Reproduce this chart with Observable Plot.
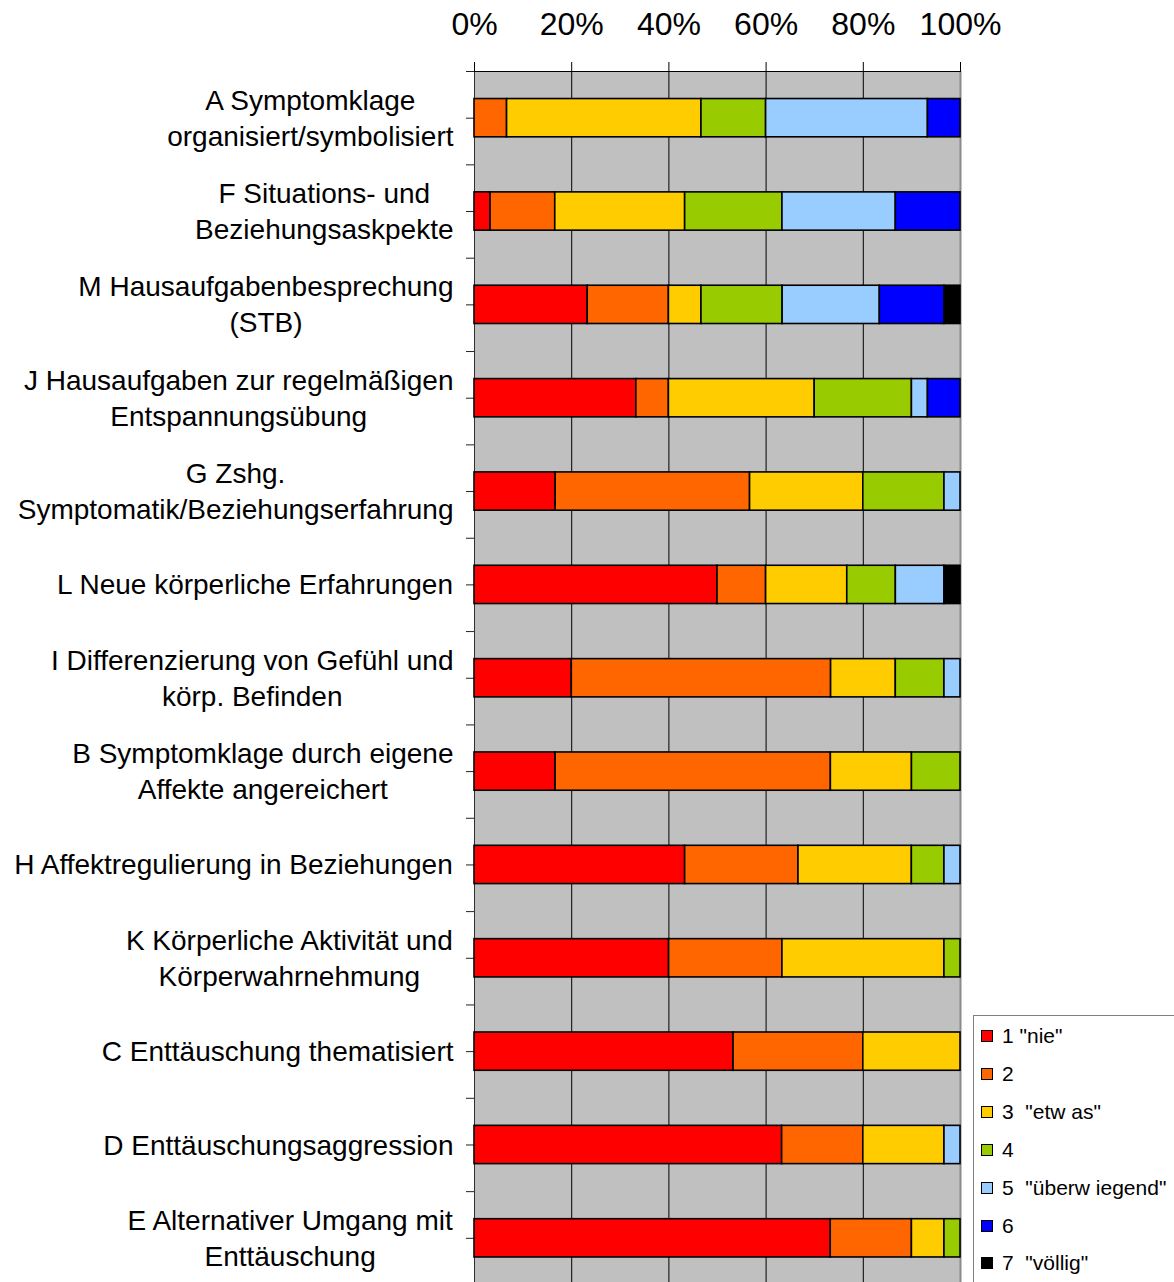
<!DOCTYPE html>
<html>
<head>
<meta charset="utf-8">
<script src="https://cdn.jsdelivr.net/npm/d3@7"></script>
<script src="https://cdn.jsdelivr.net/npm/@observablehq/plot@0.6"></script>
<style>
  html, body { margin: 0; padding: 0; background: white; overflow: hidden; }
  #wrap { position: relative; width: 1174px; height: 1282px; }
  #legend {
    position: absolute; left: 973px; top: 1015px; width: 215px; height: 290px;
    border: 1px solid #808080; background: white; box-sizing: border-box;
    font-family: "Liberation Sans", Arial, sans-serif; font-size: 21px; color: black;
  }
  .item { position: absolute; left: 7px; height: 24px; display: flex; align-items: center; white-space: pre; }
  .sw { width: 10px; height: 10px; border: 1px solid black; margin-right: 9px; }
</style>
</head>
<body>
<div id="wrap"><div id="chart"></div><div id="legend"></div></div>
<script>
const categories = [
  "A Symptomklage\norganisiert/symbolisiert",
  "F Situations- und\nBeziehungsaskpekte",
  "M Hausaufgabenbesprechung\n(STB)",
  "J Hausaufgaben zur regelmäßigen\nEntspannungsübung",
  "G Zshg.\nSymptomatik/Beziehungserfahrung",
  "L Neue körperliche Erfahrungen",
  "I Differenzierung von Gefühl und\nkörp. Befinden",
  "B Symptomklage durch eigene\nAffekte angereichert",
  "H Affektregulierung in Beziehungen",
  "K Körperliche Aktivität und\nKörperwahrnehmung",
  "C Enttäuschung thematisiert",
  "D Enttäuschungsaggression",
  "E Alternativer Umgang mit\nEnttäuschung"
];
const levels = ['1 "nie"', '2', '3  "etw as"', '4', '5  "überw iegend"', '6', '7  "völlig"'];
const colors = ["#FF0000", "#FF6600", "#FFCC00", "#99CC00", "#99CCFF", "#0000FF", "#000000"];

// percent per category (same order as categories)
const level1 = [0,    3.3, 23.3, 33.3, 16.7, 50,   20,   16.7, 43.3, 40,   53.3, 63.3, 73.3];
const level2 = [6.7, 13.3, 16.7,  6.7, 40,   10,   53.3, 56.7, 23.3, 23.3, 26.7, 16.7, 16.7];
const level3 = [40,  26.7,  6.7, 30,   23.3, 16.7, 13.3, 16.7, 23.3, 33.3, 20,   16.7,  6.7];
const level4 = [13.3, 20,  16.7, 20,   16.7, 10,   10,   10,    6.7,  3.3,  0,    0,    3.3];
const level5 = [33.3, 23.3, 20,   3.3,  3.3, 10,    3.3,  0,    3.3,  0,    0,    3.3,  0];
const level6 = [6.7, 13.3, 13.3,  6.7,  0,    0,    0,    0,    0,    0,    0,    0,    0];
const level7 = [0,    0,    3.3,  0,    0,    3.3,  0,    0,    0,    0,    0,    0,    0];
const series = [level1, level2, level3, level4, level5, level6, level7];
const xTicks = [0, 0.2, 0.4, 0.6, 0.8, 1];

const rows = [];
categories.forEach((c, i) => {
  series.forEach((s, j) => { if (s[i] > 0) rows.push({cat: c, level: levels[j], value: s[i]}); });
});

const W = 1174, H = 1286, mT = 71, mB = 1.5, mL = 474, mR = 214;
const step = (H - mT - mB) / categories.length;
const FONT = "'Liberation Sans', Arial, sans-serif";
const labelSize = 28;

const ctx = document.createElement("canvas").getContext("2d");
ctx.font = `${labelSize}px ${FONT}`;
const labelMarks = categories.map(c => {
  const w = d3.max(c.split("\n"), l => ctx.measureText(l).width);
  return Plot.text([c], {
    y: d => d, frameAnchor: "left", textAnchor: "middle", lineAnchor: "middle",
    dx: -(21 + w / 2), dy: -2, fontSize: labelSize, lineHeight: 36 / labelSize, fill: "black"
  });
});

const chart = Plot.plot({
  width: W, height: H,
  marginTop: mT, marginBottom: mB, marginLeft: mL, marginRight: mR,
  style: {fontFamily: FONT, background: "white", overflow: "visible"},
  x: {domain: [0, 1]},
  y: {domain: categories, paddingInner: 0.59, paddingOuter: 0.295, align: 0.5, round: false},
  color: {domain: levels, range: colors},
  marks: [
    Plot.frame({fill: "#C0C0C0", stroke: null}),
    Plot.gridX({ticks: [0.2, 0.4, 0.6, 0.8], stroke: "black", strokeOpacity: 1, strokeWidth: 1}),
    Plot.ruleX([1], {stroke: "#8a8a8a", strokeWidth: 2}),
    Plot.ruleX([0], {stroke: "#303030", strokeWidth: 1}),
    Plot.ruleY([categories[0]], {dy: -step / 2, stroke: "black", strokeWidth: 1}),
    Plot.axisX({anchor: "top", ticks: xTicks, tickFormat: d3.format(".0%"), tickSize: 10,
      tickPadding: 27, fontSize: 32, label: null, stroke: "black", fill: "black"}),
    Plot.axisY({anchor: "left", tickSize: 8, tickFormat: () => "", label: null, stroke: "#222"}),
    Plot.axisY({anchor: "left", tickSize: 8, tickFormat: () => "", label: null, stroke: "#222", dy: -step / 2}),
    Plot.barX(rows, Plot.stackX({offset: "normalize", x: "value", y: "cat", fill: "level",
      stroke: "black", strokeWidth: 1.6})),
    ...labelMarks
  ]
});
document.getElementById("chart").appendChild(chart);

const legend = document.getElementById("legend");
levels.forEach((l, i) => {
  const it = document.createElement("div");
  it.className = "item";
  it.style.top = (8 + i * 37.9) + "px";
  const sw = document.createElement("div");
  sw.className = "sw";
  sw.style.background = colors[i];
  const tx = document.createElement("span");
  tx.textContent = l;
  it.appendChild(sw); it.appendChild(tx);
  legend.appendChild(it);
});
</script>
</body>
</html>
